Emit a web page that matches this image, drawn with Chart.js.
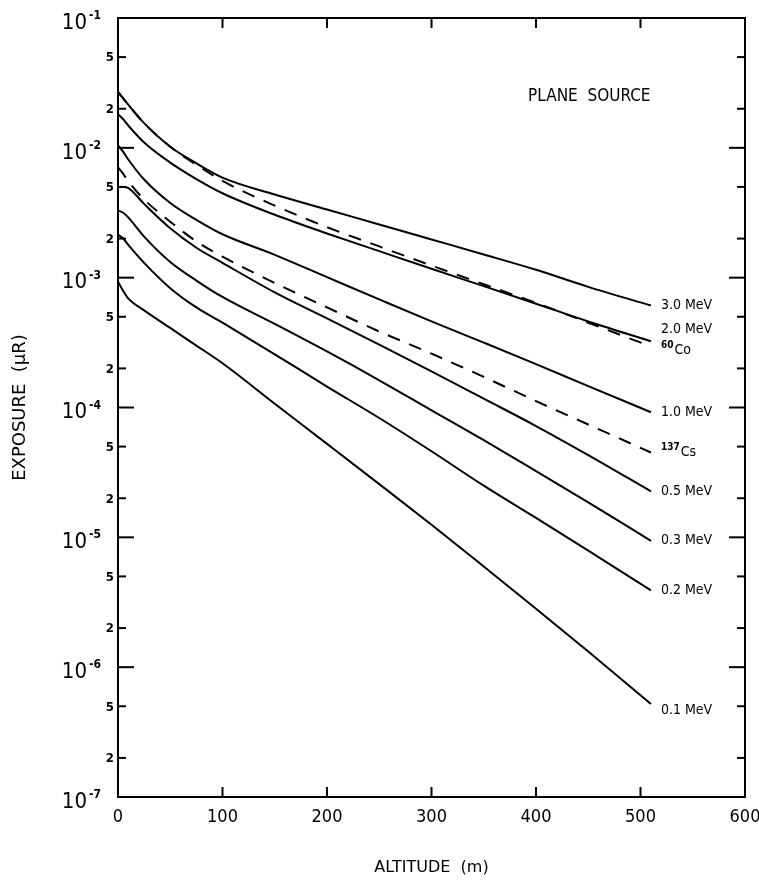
<!DOCTYPE html>
<html lang="en">
<head>
<meta charset="UTF-8">
<title>Plane source exposure vs altitude</title>
<script src="https://cdn.jsdelivr.net/npm/chart.js"></script>
<style>
  body { margin: 0; background: #fff; }
  canvas { display: block; }
</style>
</head>
<body>
<canvas id="chart" width="759" height="889"></canvas>
<script>
// altitude (m)
const altitude = [0, 5, 10, 25, 50, 75, 100, 150, 200, 250, 300, 350, 400, 450, 510];

// exposure (uR) per curve
const mev30 = [2.7e-2, 2.4e-2, 2.14e-2, 1.55e-2, 1.02e-2, 7.6e-3, 5.9e-3, 4.37e-3, 3.35e-3, 2.57e-3, 1.97e-3, 1.51e-3, 1.15e-3, 8.5e-4, 6.1e-4];
const mev20 = [1.82e-2, 1.66e-2, 1.48e-2, 1.1e-2, 7.7e-3, 5.75e-3, 4.47e-3, 3.05e-3, 2.19e-3, 1.6e-3, 1.17e-3, 8.6e-4, 6.3e-4, 4.6e-4, 3.24e-4];
const co60 = [2.7e-2, 2.4e-2, 2.14e-2, 1.55e-2, 1.02e-2, 7.4e-3, 5.56e-3, 3.59e-3, 2.45e-3, 1.74e-3, 1.24e-3, 8.9e-4, 6.4e-4, 4.5e-4, 2.95e-4];
const mev10 = [1.05e-2, 9.3e-3, 8.1e-3, 5.7e-3, 3.76e-3, 2.79e-3, 2.16e-3, 1.5e-3, 1.01e-3, 6.8e-4, 4.6e-4, 3.16e-4, 2.16e-4, 1.46e-4, 9.2e-5];
const cs137 = [7.1e-3, 6.3e-3, 5.5e-3, 4.0e-3, 2.7e-3, 1.9e-3, 1.45e-3, 9.1e-4, 5.9e-4, 3.85e-4, 2.6e-4, 1.72e-4, 1.12e-4, 7.4e-5, 4.5e-5];
const mev05 = [5.0e-3, 5.0e-3, 4.9e-3, 3.7e-3, 2.4e-3, 1.7e-3, 1.3e-3, 7.7e-4, 4.85e-4, 3.05e-4, 1.9e-4, 1.17e-4, 7.2e-5, 4.3e-5, 2.26e-5];
const mev03 = [3.3e-3, 3.16e-3, 2.9e-3, 2.07e-3, 1.32e-3, 9.5e-4, 7.1e-4, 4.4e-4, 2.7e-4, 1.62e-4, 9.5e-5, 5.6e-5, 3.24e-5, 1.86e-5, 9.4e-6];
const mev02 = [2.14e-3, 2.0e-3, 1.78e-3, 1.3e-3, 8.3e-4, 5.9e-4, 4.5e-4, 2.57e-4, 1.45e-4, 8.3e-5, 4.6e-5, 2.5e-5, 1.41e-5, 7.9e-6, 3.9e-6];
const mev01 = [9.3e-4, 7.9e-4, 6.9e-4, 5.6e-4, 4.1e-4, 3.0e-4, 2.19e-4, 1.07e-4, 5.25e-5, 2.57e-5, 1.25e-5, 5.96e-6, 2.82e-6, 1.32e-6, 5.2e-7];

// curve names: [superscript, text]
const curveNames = [['', '3.0 MeV'], ['', '2.0 MeV'], ['60', 'Co'], ['', '1.0 MeV'], ['137', 'Cs'],
                    ['', '0.5 MeV'], ['', '0.3 MeV'], ['', '0.2 MeV'], ['', '0.1 MeV']];
const curveValues = [mev30, mev20, co60, mev10, cs137, mev05, mev03, mev02, mev01];
const curveDashed = [false, false, true, false, true, false, false, false, false];

// axis tick labels
const yDecades = [-1, -2, -3, -4, -5, -6, -7];
const yMinor = [2, 5];
const xTicks = [0, 100, 200, 300, 400, 500, 600];

const narrow = "'DejaVu Sans Condensed', 'DejaVu Sans', sans-serif";
const labelShift = [0, -12, 4, 0, 0, 0, 0, 0, 6];

const datasets = curveValues.map((vals, i) => ({
    label: curveNames[i].join(''),
    data: vals.map((v, j) => ({ x: altitude[j], y: v })),
    borderColor: '#000',
    borderWidth: 2,
    borderDash: curveDashed[i] ? [13, 10] : [],
    pointRadius: 0,
    cubicInterpolationMode: 'monotone',
    fill: false
}));

function supText(ctx, x, y, sup, txt, size) {
    ctx.textAlign = 'left';
    ctx.textBaseline = 'middle';
    let cx = x;
    if (sup) {
        ctx.font = 'bold ' + Math.round(size * 0.7) + 'px ' + narrow;
        ctx.fillText(sup, cx, y - 5);
        cx += ctx.measureText(sup).width + 1;
    }
    ctx.font = size + 'px ' + narrow;
    ctx.fillText(txt, cx, y);
}

const overlay = {
    id: 'overlay',
    afterDraw(chart) {
        const { ctx, chartArea: a, scales: { x, y } } = chart;
        ctx.save();
        ctx.strokeStyle = '#000';
        ctx.fillStyle = '#000';
        ctx.lineWidth = 2;
        ctx.strokeRect(a.left, a.top, a.right - a.left, a.bottom - a.top);

        const tick = (x1, y1, x2, y2) => {
            ctx.beginPath(); ctx.moveTo(x1, y1); ctx.lineTo(x2, y2); ctx.stroke();
        };

        // y ticks, both sides, pointing inward
        yDecades.forEach(e => {
            const py = y.getPixelForValue(Math.pow(10, e));
            tick(a.left, py, a.left + 16, py);
            tick(a.right, py, a.right - 16, py);
            ctx.textBaseline = 'middle';
            ctx.textAlign = 'right';
            ctx.font = '22px ' + narrow;
            ctx.fillText('10', 87, py + 5);
            ctx.textAlign = 'left';
            ctx.font = 'bold 12px ' + narrow;
            ctx.fillText('-' + (-e), 89, py - 2);
            if (e === -1) return;
            yMinor.forEach(m => {
                const pm = y.getPixelForValue(m * Math.pow(10, e));
                tick(a.left, pm, a.left + 8, pm);
                tick(a.right, pm, a.right - 8, pm);
                ctx.textAlign = 'right';
                ctx.font = 'bold 13px ' + narrow;
                ctx.fillText(String(m), 114, pm + 1);
            });
        });

        // x ticks top and bottom
        xTicks.slice(1, -1).forEach(v => {
            const px = x.getPixelForValue(v);
            tick(px, a.bottom, px, a.bottom - 10);
            tick(px, a.top, px, a.top + 10);
        });

        // panel title
        ctx.textAlign = 'center';
        ctx.textBaseline = 'middle';
        ctx.font = '17px ' + narrow;
        ctx.fillText('PLANE  SOURCE', x.getPixelForValue(451), y.getPixelForValue(0.0246));

        // curve labels at the right end
        const lastX = altitude[altitude.length - 1];
        curveValues.forEach((vals, i) => {
            const px = x.getPixelForValue(lastX) + 10;
            const py = y.getPixelForValue(vals[vals.length - 1]) + labelShift[i];
            supText(ctx, px, py, curveNames[i][0], curveNames[i][1], 14);
        });
        ctx.restore();
    }
};

new Chart(document.getElementById('chart'), {
    type: 'line',
    data: { datasets: datasets },
    options: {
        responsive: false,
        animation: false,
        devicePixelRatio: 1,
        layout: { padding: { top: 18, right: 14, left: 0, bottom: 0 } },
        plugins: { legend: { display: false }, tooltip: { enabled: false } },
        scales: {
            x: {
                type: 'linear',
                min: 0,
                max: 600,
                afterBuildTicks: s => { s.ticks = xTicks.map(v => ({ value: v })); },
                afterFit: s => { s.height = 92; s.paddingLeft = 0; s.paddingRight = 0; },
                grid: { display: false, drawTicks: false },
                border: { display: false },
                ticks: { color: '#000', padding: 10, font: { family: narrow, size: 18 } },
                title: {
                    display: true,
                    text: 'ALTITUDE  (m)',
                    color: '#000',
                    font: { family: 'DejaVu Sans', size: 16 },
                    padding: { top: 0, bottom: 12 }
                }
            },
            y: {
                type: 'logarithmic',
                min: 1e-7,
                max: 1e-1,
                afterFit: s => { s.width = 118; },
                grid: { display: false, drawTicks: false },
                border: { display: false },
                ticks: { display: false },
                title: {
                    display: true,
                    text: 'EXPOSURE  (μR)',
                    color: '#000',
                    font: { family: 'DejaVu Sans', size: 18 },
                    padding: { top: 10, bottom: 0 }
                }
            }
        }
    },
    plugins: [overlay]
});
</script>
</body>
</html>
